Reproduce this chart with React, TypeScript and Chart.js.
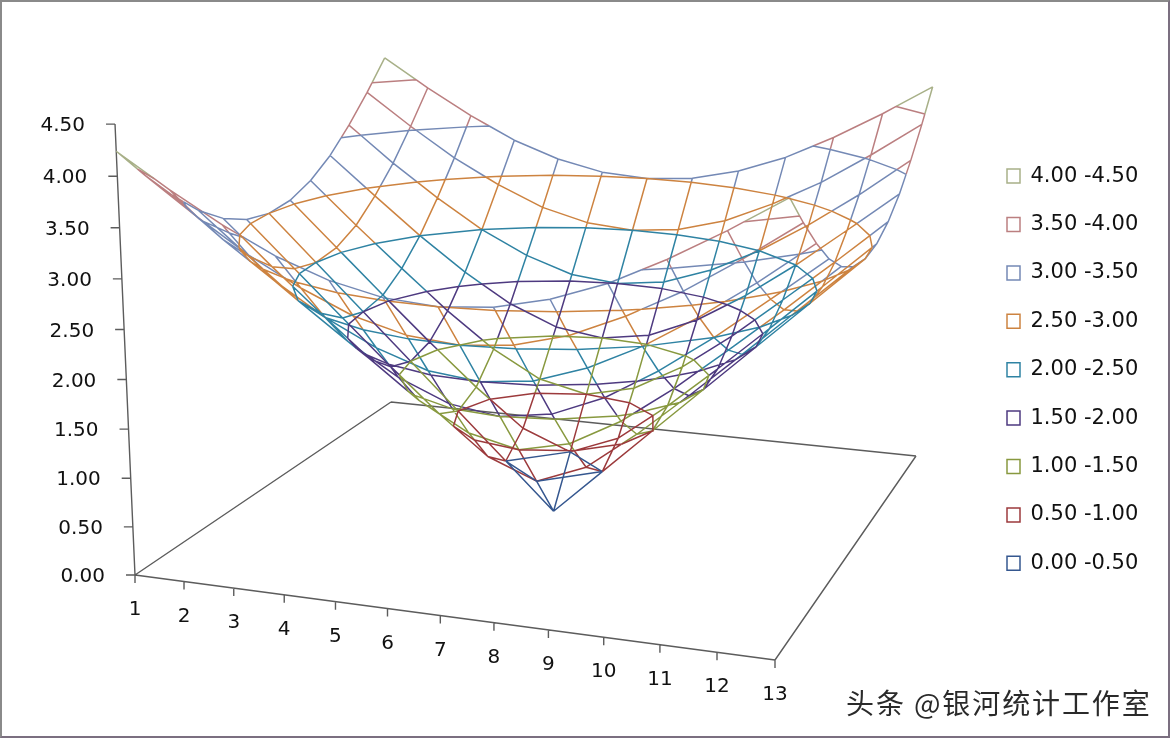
import React, { useEffect, useRef } from "react";
import { Chart, registerables } from "chart.js";

Chart.register(...registerables);

const categories = ["1", "2", "3", "4", "5", "6", "7", "8", "9", "10", "11", "12", "13"];
const zTicks = [0, 0.5, 1, 1.5, 2, 2.5, 3, 3.5, 4, 4.5];
const zTickLabels = ["0.00", "0.50", "1.00", "1.50", "2.00", "2.50", "3.00", "3.50", "4.00", "4.50"];
const bandLabels = ["0.00 -0.50", "0.50 -1.00", "1.00 -1.50", "1.50 -2.00", "2.00 -2.50", "2.50 -3.00", "3.00 -3.50", "3.50 -4.00", "4.00 -4.50"];
const bandColors = ["#35578f", "#9c3a3c", "#88993f", "#4e3a80", "#2f83a3", "#cd8340", "#7489b5", "#bb7f80", "#a8b088"];
const watermark = "头条 @银河统计工作室";

const row01 = [4.24, 3.91, 3.61, 3.35, 3.16, 3.04, 3.0, 3.04, 3.16, 3.35, 3.61, 3.91, 4.24];
const row02 = [3.91, 3.54, 3.2, 2.92, 2.69, 2.55, 2.5, 2.55, 2.69, 2.92, 3.2, 3.54, 3.91];
const row03 = [3.61, 3.2, 2.83, 2.5, 2.24, 2.06, 2.0, 2.06, 2.24, 2.5, 2.83, 3.2, 3.61];
const row04 = [3.35, 2.92, 2.5, 2.12, 1.8, 1.58, 1.5, 1.58, 1.8, 2.12, 2.5, 2.92, 3.35];
const row05 = [3.16, 2.69, 2.24, 1.8, 1.41, 1.12, 1.0, 1.12, 1.41, 1.8, 2.24, 2.69, 3.16];
const row06 = [3.04, 2.55, 2.06, 1.58, 1.12, 0.71, 0.5, 0.71, 1.12, 1.58, 2.06, 2.55, 3.04];
const row07 = [3.0, 2.5, 2.0, 1.5, 1.0, 0.5, 0.0, 0.5, 1.0, 1.5, 2.0, 2.5, 3.0];
const row08 = [3.04, 2.55, 2.06, 1.58, 1.12, 0.71, 0.5, 0.71, 1.12, 1.58, 2.06, 2.55, 3.04];
const row09 = [3.16, 2.69, 2.24, 1.8, 1.41, 1.12, 1.0, 1.12, 1.41, 1.8, 2.24, 2.69, 3.16];
const row10 = [3.35, 2.92, 2.5, 2.12, 1.8, 1.58, 1.5, 1.58, 1.8, 2.12, 2.5, 2.92, 3.35];
const row11 = [3.61, 3.2, 2.83, 2.5, 2.24, 2.06, 2.0, 2.06, 2.24, 2.5, 2.83, 3.2, 3.61];
const row12 = [3.91, 3.54, 3.2, 2.92, 2.69, 2.55, 2.5, 2.55, 2.69, 2.92, 3.2, 3.54, 3.91];
const row13 = [4.24, 3.91, 3.61, 3.35, 3.16, 3.04, 3.0, 3.04, 3.16, 3.35, 3.61, 3.91, 4.24];
const surface = [row01, row02, row03, row04, row05, row06, row07, row08, row09, row10, row11, row12, row13];

const BAND = 0.5;
const N = surface.length - 1;

// Perspective camera of the 3-D plot (grid index, grid index, value -> plot coordinates)
function project(u: number, v: number, w: number) {
  const a = u / N;
  const b = v / N;
  const d = 1 - 0.08774 * a + 0.24261 * b - 0.00964 * w;
  return {
    x: (572 * a + 350.86 * b + 135 - 5.55 * w + 1.1 * a * w) / d,
    y: (27.09 * a - 75.47 * b + 575 - 101.4 * w) / d,
  };
}

const GAP = { x: NaN, y: NaN };

function buildBands() {
  const bands: { x: number; y: number }[][] = bandLabels.map(() => []);
  const addEdge = (u1: number, v1: number, z1: number, u2: number, v2: number, z2: number) => {
    const lo = Math.min(z1, z2);
    const hi = Math.max(z1, z2);
    const stops = [0];
    for (let l = Math.ceil(lo / BAND) * BAND; l < hi; l += BAND) {
      if (l > lo) stops.push((l - z1) / (z2 - z1));
    }
    stops.push(1);
    stops.sort((p, q) => p - q);
    for (let i = 0; i < stops.length - 1; i++) {
      const s = stops[i];
      const e = stops[i + 1];
      const zs = z1 + (z2 - z1) * s;
      const ze = z1 + (z2 - z1) * e;
      const k = Math.min(bands.length - 1, Math.floor((zs + ze) / 2 / BAND));
      bands[k].push(project(u1 + (u2 - u1) * s, v1 + (v2 - v1) * s, zs));
      bands[k].push(project(u1 + (u2 - u1) * e, v1 + (v2 - v1) * e, ze));
      bands[k].push(GAP);
    }
  };
  for (let r = 0; r <= N; r++) {
    for (let c = 0; c <= N; c++) {
      if (c < N) addEdge(c, r, surface[r][c], c + 1, r, surface[r][c + 1]);
      if (r < N) addEdge(c, r, surface[r][c], c, r + 1, surface[r + 1][c]);
    }
  }
  // iso-lines of each band's upper limit
  for (let k = 0; k < bands.length - 1; k++) {
    const level = (k + 1) * BAND;
    for (let r = 0; r < N; r++) {
      for (let c = 0; c < N; c++) {
        const corners = [
          [c, r, surface[r][c]],
          [c + 1, r, surface[r][c + 1]],
          [c + 1, r + 1, surface[r + 1][c + 1]],
          [c, r + 1, surface[r + 1][c]],
        ];
        const hits: { x: number; y: number }[] = [];
        for (let i = 0; i < 4; i++) {
          const p = corners[i];
          const q = corners[(i + 1) % 4];
          if (p[2] >= level !== q[2] >= level) {
            const t = (level - p[2]) / (q[2] - p[2]);
            hits.push(project(p[0] + (q[0] - p[0]) * t, p[1] + (q[1] - p[1]) * t, level));
          }
        }
        for (let i = 0; i + 1 < hits.length; i += 2) {
          bands[k].push(hits[i], hits[i + 1], GAP);
        }
      }
    }
  }
  return bands;
}

function buildFrame() {
  const pts: { x: number; y: number }[] = [];
  const seg = (p: { x: number; y: number }, q: { x: number; y: number }) => pts.push(p, q, GAP);
  const c00 = project(0, 0, 0);
  const c10 = project(N, 0, 0);
  const c11 = project(N, N, 0);
  const c01 = project(0, N, 0);
  seg(c00, c10);
  seg(c10, c11);
  seg(c11, c01);
  seg(c01, c00);
  seg(c00, project(0, 0, zTicks[zTicks.length - 1]));
  zTicks.forEach((z) => {
    const p = project(0, 0, z);
    seg(p, { x: p.x - 9, y: p.y });
  });
  categories.forEach((_, i) => {
    const p = project(i, 0, 0);
    seg(p, { x: p.x, y: p.y + 8 });
  });
  return pts;
}

const textPlugin = {
  id: "plotText",
  afterDraw(chart: any) {
    const ctx = chart.ctx;
    ctx.save();
    ctx.fillStyle = "#111111";
    ctx.textBaseline = "middle";
    ctx.font = '20px "DejaVu Sans"';
    ctx.textAlign = "right";
    zTicks.forEach((z, i) => {
      const p = project(0, 0, z);
      ctx.fillText(zTickLabels[i], p.x - 30, p.y + 2);
    });
    ctx.textAlign = "center";
    categories.forEach((label, i) => {
      const p = project(i, 0, 0);
      ctx.fillText(label, p.x, p.y + 35);
    });
    ctx.textAlign = "left";
    ctx.fillStyle = "#2a2a2a";
    ctx.font = '28px "Noto Sans CJK SC"';
    ctx.letterSpacing = "1.9px";
    ctx.fillText(watermark, 846, 703);
    ctx.restore();
  },
};

export default function App() {
  const ref = useRef<HTMLCanvasElement>(null);
  useEffect(() => {
    const bands = buildBands();
    const chart = new Chart(ref.current as HTMLCanvasElement, {
      type: "scatter",
      data: {
        datasets: [
          ...bandLabels.map((label, i) => ({
            label,
            data: bands[i],
            showLine: true,
            borderColor: bandColors[i],
            backgroundColor: "#ffffff",
            borderWidth: 1.5,
            pointRadius: 0,
            spanGaps: false,
            clip: false,
          })),
          {
            label: "frame",
            data: buildFrame(),
            showLine: true,
            borderColor: "#5c5c5c",
            backgroundColor: "#ffffff",
            borderWidth: 1.4,
            pointRadius: 0,
            spanGaps: false,
            clip: false,
          },
        ],
      },
      options: {
        animation: false,
        responsive: false,
        events: [],
        layout: { padding: { left: 979.6, top: 0, right: 0, bottom: 0 } },
        scales: {
          x: { type: "linear", display: false, bounds: "data", min: 979.6, max: 1170 },
          y: { type: "linear", display: false, bounds: "data", min: 0, max: 738, reverse: true },
        },
        plugins: {
          tooltip: { enabled: false },
          legend: {
            position: "chartArea",
            align: "start",
            reverse: true,
            title: {
              display: true,
              text: " ",
              color: "rgba(0,0,0,0)",
              font: { size: 10 },
              padding: { top: 126.2, bottom: 0 },
            },
            labels: {
              boxWidth: 13,
              boxHeight: 14,
              padding: 27.4,
              color: "#111111",
              font: { family: '"DejaVu Sans"', size: 21 },
              filter: (item: any) => item.text !== "frame",
            },
          },
        },
      } as any,
      plugins: [textPlugin],
    });
    return () => chart.destroy();
  }, []);
  return (
    <div style={{ position: "fixed", left: 0, top: 0, width: 1170, height: 738, background: "#ffffff" }}>
      <canvas ref={ref} width={1170} height={738} style={{ display: "block" }} />
      <div
        style={{
          position: "absolute",
          inset: 0,
          boxSizing: "border-box",
          borderStyle: "solid",
          borderWidth: 2,
          borderColor: "#8a8a8a #7b6f80 #7b6f80 #8a8a8a",
          pointerEvents: "none",
        }}
      />
    </div>
  );
}
